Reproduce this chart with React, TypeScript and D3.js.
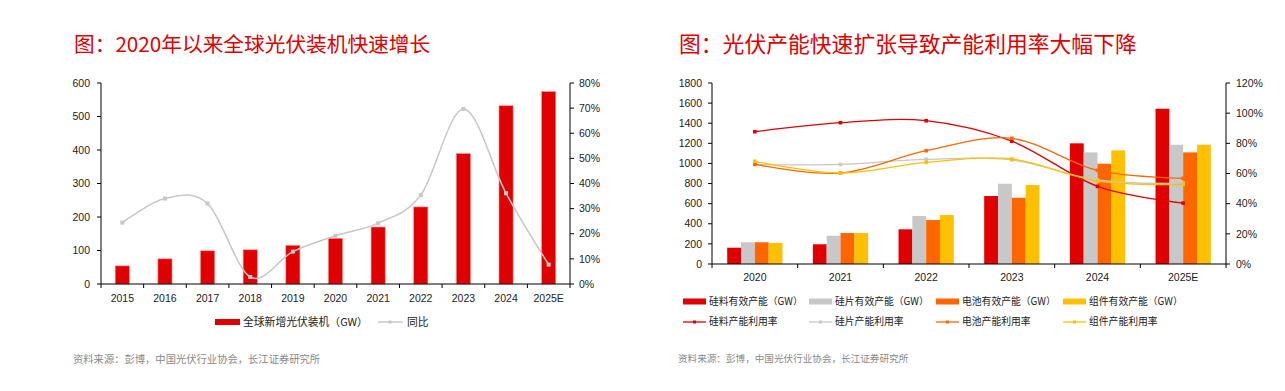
import React from 'react';
import * as d3 from 'd3';

// ---------- Data: left chart ----------
const years1 = ['2015', '2016', '2017', '2018', '2019', '2020', '2021', '2022', '2023', '2024', '2025E'];
const installs = [54, 75, 99, 102, 115, 136, 170, 230, 389, 532, 574];
const yoy = [24.4, 34, 32, 2.8, 12.9, 19.2, 24.2, 35.4, 69.7, 36.1, 7.7];
const leftTicks = [0, 100, 200, 300, 400, 500, 600];
const leftPctTicks = [0, 10, 20, 30, 40, 50, 60, 70, 80];

// ---------- Data: right chart ----------
const years2 = ['2020', '2021', '2022', '2023', '2024', '2025E'];
const polyCap = [162, 196, 345, 676, 1200, 1544];
const waferCap = [216, 281, 477, 798, 1110, 1186];
const cellCap = [216, 308, 437, 659, 997, 1110];
const moduleCap = [209, 308, 487, 785, 1130, 1186];
const polyUtil = [87.7, 93.7, 95, 81.4, 51.5, 40.4];
const waferUtil = [66, 66, 69.4, 69, 55.7, 53.5];
const cellUtil = [66.1, 60.3, 75.1, 83.3, 62.1, 56.8];
const moduleUtil = [68.1, 60.3, 67.4, 69.6, 55, 52.8];
const rightTicks = [0, 200, 400, 600, 800, 1000, 1200, 1400, 1600, 1800];
const rightPctTicks = [0, 20, 40, 60, 80, 100, 120];

const capNames = ['硅料有效产能（GW）', '硅片有效产能（GW）', '电池有效产能（GW）', '组件有效产能（GW）'];
const utilNames = ['硅料产能利用率', '硅片产能利用率', '电池产能利用率', '组件产能利用率'];

const RED = '#E00000';
const GREY = '#C8C8C8';
const ORANGE = '#FF6600';
const YELLOW = '#FFC000';
const colors = [RED, GREY, ORANGE, YELLOW];

const FONT = "'Liberation Sans', Arial, 'Noto Sans CJK SC', sans-serif";
const CJK = "'Noto Sans CJK SC', 'Liberation Sans', sans-serif";
const TXT = '#222';

function LeftChart() {
  const x0 = 101, x1 = 570, yTop = 83, yBot = 284;
  const x = d3.scaleBand().domain(years1).range([x0, x1]).paddingInner(0).paddingOuter(0);
  const y = d3.scaleLinear().domain([0, 600]).range([yBot, yTop]);
  const yp = d3.scaleLinear().domain([0, 80]).range([yBot, yTop]);
  const bw = x.bandwidth() * 0.33;
  const cx = (d: string) => (x(d) as number) + x.bandwidth() / 2;
  const line = d3.line<number>().x((_, i) => cx(years1[i])).y((v) => yp(v)).curve(d3.curveCatmullRom.alpha(0));
  return (
    <g>
      <text x={74} y={52} fontFamily={CJK} fontSize={20.7} fill={RED}>图：2020年以来全球光伏装机快速增长</text>
      {installs.map((v, i) => (
        <rect key={i} x={cx(years1[i]) - bw / 2} y={y(v)} width={bw} height={yBot - y(v)} fill={RED} stroke="#f08080" strokeWidth={0.6} />
      ))}
      <path d={line(yoy) || ''} fill="none" stroke={GREY} strokeWidth={1.5} />
      {yoy.map((v, i) => (
        <rect key={i} x={cx(years1[i]) - 2} y={yp(v) - 2} width={4} height={4} fill={GREY} />
      ))}
      <line x1={x0} x2={x0} y1={yTop} y2={yBot} stroke="#000" />
      <line x1={x1} x2={x1} y1={yTop} y2={yBot} stroke="#000" />
      <line x1={x0} x2={x1} y1={yBot} y2={yBot} stroke="#000" />
      {leftTicks.map((t) => (
        <g key={t}>
          <line x1={x0 - 4} x2={x0} y1={y(t)} y2={y(t)} stroke="#000" />
          <text x={90} y={y(t)} dy="0.35em" textAnchor="end" fontFamily={FONT} fontSize={10.5} fill={TXT}>{t}</text>
        </g>
      ))}
      {leftPctTicks.map((t) => (
        <g key={t}>
          <line x1={x1} x2={x1 + 4} y1={yp(t)} y2={yp(t)} stroke="#000" />
          <text x={579} y={yp(t)} dy="0.35em" textAnchor="start" fontFamily={FONT} fontSize={10.5} fill={TXT}>{t}%</text>
        </g>
      ))}
      {years1.map((d, i) => (
        <g key={d}>
          <line x1={(x(d) as number)} x2={(x(d) as number)} y1={yBot} y2={yBot + 4} stroke="#000" />
          {i === years1.length - 1 && <line x1={x1} x2={x1} y1={yBot} y2={yBot + 4} stroke="#000" />}
          <text x={cx(d)} y={298} dy="0.35em" textAnchor="middle" fontFamily={FONT} fontSize={10.5} fill={TXT}>{d}</text>
        </g>
      ))}
      <rect x={215} y={319} width={25} height={6} fill={RED} />
      <text x={243} y={322} dy="0.35em" fontFamily={CJK} fontSize={10.8} fill={TXT}>全球新增光伏装机（GW）</text>
      <line x1={378} x2={403} y1={322} y2={322} stroke={GREY} strokeWidth={1.5} />
      <rect x={388.5} y={320.5} width={3} height={3} fill={GREY} />
      <text x={407} y={322} dy="0.35em" fontFamily={CJK} fontSize={10.8} fill={TXT}>同比</text>
      <text x={73} y={359} dy="0.35em" fontFamily={CJK} fontSize={10.3} fill="#8a8a8a">资料来源：彭博，中国光伏行业协会，长江证券研究所</text>
    </g>
  );
}

function RightChart() {
  const x0 = 712, x1 = 1226, yTop = 83, yBot = 264;
  const x = d3.scaleBand().domain(years2).range([x0, x1]);
  const y = d3.scaleLinear().domain([0, 1800]).range([yBot, yTop]);
  const yp = d3.scaleLinear().domain([0, 120]).range([yBot, yTop]);
  const inner = d3.scaleBand().domain(['0', '1', '2', '3']).range([0, x.bandwidth() * 0.645]);
  const groupOff = (x.bandwidth() - x.bandwidth() * 0.645) / 2;
  const cx = (d: string) => (x(d) as number) + x.bandwidth() / 2;
  const caps = [polyCap, waferCap, cellCap, moduleCap];
  const utils = [polyUtil, waferUtil, cellUtil, moduleUtil];
  const line = d3.line<number>().x((_, i) => cx(years2[i])).y((v) => yp(v)).curve(d3.curveCatmullRom.alpha(0));
  const legX = [683, 809, 936, 1063];
  return (
    <g>
      <text x={679} y={52} fontFamily={CJK} fontSize={21.8} fill={RED}>图：光伏产能快速扩张导致产能利用率大幅下降</text>
      {caps.map((arr, s) =>
        arr.map((v, i) => (
          <rect key={`${s}-${i}`} x={(x(years2[i]) as number) + groupOff + (inner(String(s)) as number)} y={y(v)} width={inner.bandwidth()} height={yBot - y(v)} fill={colors[s]} />
        ))
      )}
      {utils.map((arr, s) => (
        <g key={s}>
          <path d={line(arr) || ''} fill="none" stroke={colors[s]} strokeWidth={1.3} />
          {arr.map((v, i) => (
            <rect key={i} x={cx(years2[i]) - 1.8} y={yp(v) - 1.8} width={3.6} height={3.6} fill={colors[s]} />
          ))}
        </g>
      ))}
      <line x1={x0} x2={x0} y1={yTop} y2={yBot} stroke="#000" />
      <line x1={x1} x2={x1} y1={yTop} y2={yBot} stroke="#000" />
      <line x1={x0} x2={x1} y1={yBot} y2={yBot} stroke="#000" />
      {rightTicks.map((t) => (
        <g key={t}>
          <line x1={x0 - 4} x2={x0} y1={y(t)} y2={y(t)} stroke="#000" />
          <text x={702} y={y(t)} dy="0.35em" textAnchor="end" fontFamily={FONT} fontSize={10.5} fill={TXT}>{t}</text>
        </g>
      ))}
      {rightPctTicks.map((t) => (
        <g key={t}>
          <line x1={x1} x2={x1 + 4} y1={yp(t)} y2={yp(t)} stroke="#000" />
          <text x={1236} y={yp(t)} dy="0.35em" textAnchor="start" fontFamily={FONT} fontSize={10.5} fill={TXT}>{t}%</text>
        </g>
      ))}
      {years2.map((d, i) => (
        <g key={d}>
          <line x1={(x(d) as number)} x2={(x(d) as number)} y1={yBot} y2={yBot + 4} stroke="#000" />
          {i === years2.length - 1 && <line x1={x1} x2={x1} y1={yBot} y2={yBot + 4} stroke="#000" />}
          <text x={cx(d)} y={277} dy="0.35em" textAnchor="middle" fontFamily={FONT} fontSize={10.5} fill={TXT}>{d}</text>
        </g>
      ))}
      {capNames.map((n, s) => (
        <g key={n}>
          <rect x={legX[s]} y={298.5} width={23} height={6} fill={colors[s]} />
          <text x={legX[s] + 26} y={301.5} dy="0.35em" fontFamily={CJK} fontSize={9.8} fill={TXT}>{n}</text>
        </g>
      ))}
      {utilNames.map((n, s) => (
        <g key={n}>
          <line x1={legX[s]} x2={legX[s] + 23} y1={322} y2={322} stroke={colors[s]} strokeWidth={1.3} />
          <rect x={legX[s] + 10} y={320.5} width={3} height={3} fill={colors[s]} />
          <text x={legX[s] + 26} y={322} dy="0.35em" fontFamily={CJK} fontSize={9.8} fill={TXT}>{n}</text>
        </g>
      ))}
      <text x={678} y={359} dy="0.35em" fontFamily={CJK} fontSize={9.6} fill="#8a8a8a">资料来源：彭博，中国光伏行业协会，长江证券研究所</text>
    </g>
  );
}

export default function App() {
  return (
    <svg width={1285} height={391} style={{ position: 'absolute', left: 0, top: 0, background: '#fff' }}>
      <rect width={1285} height={391} fill="#fff" />
      <LeftChart />
      <RightChart />
    </svg>
  );
}
